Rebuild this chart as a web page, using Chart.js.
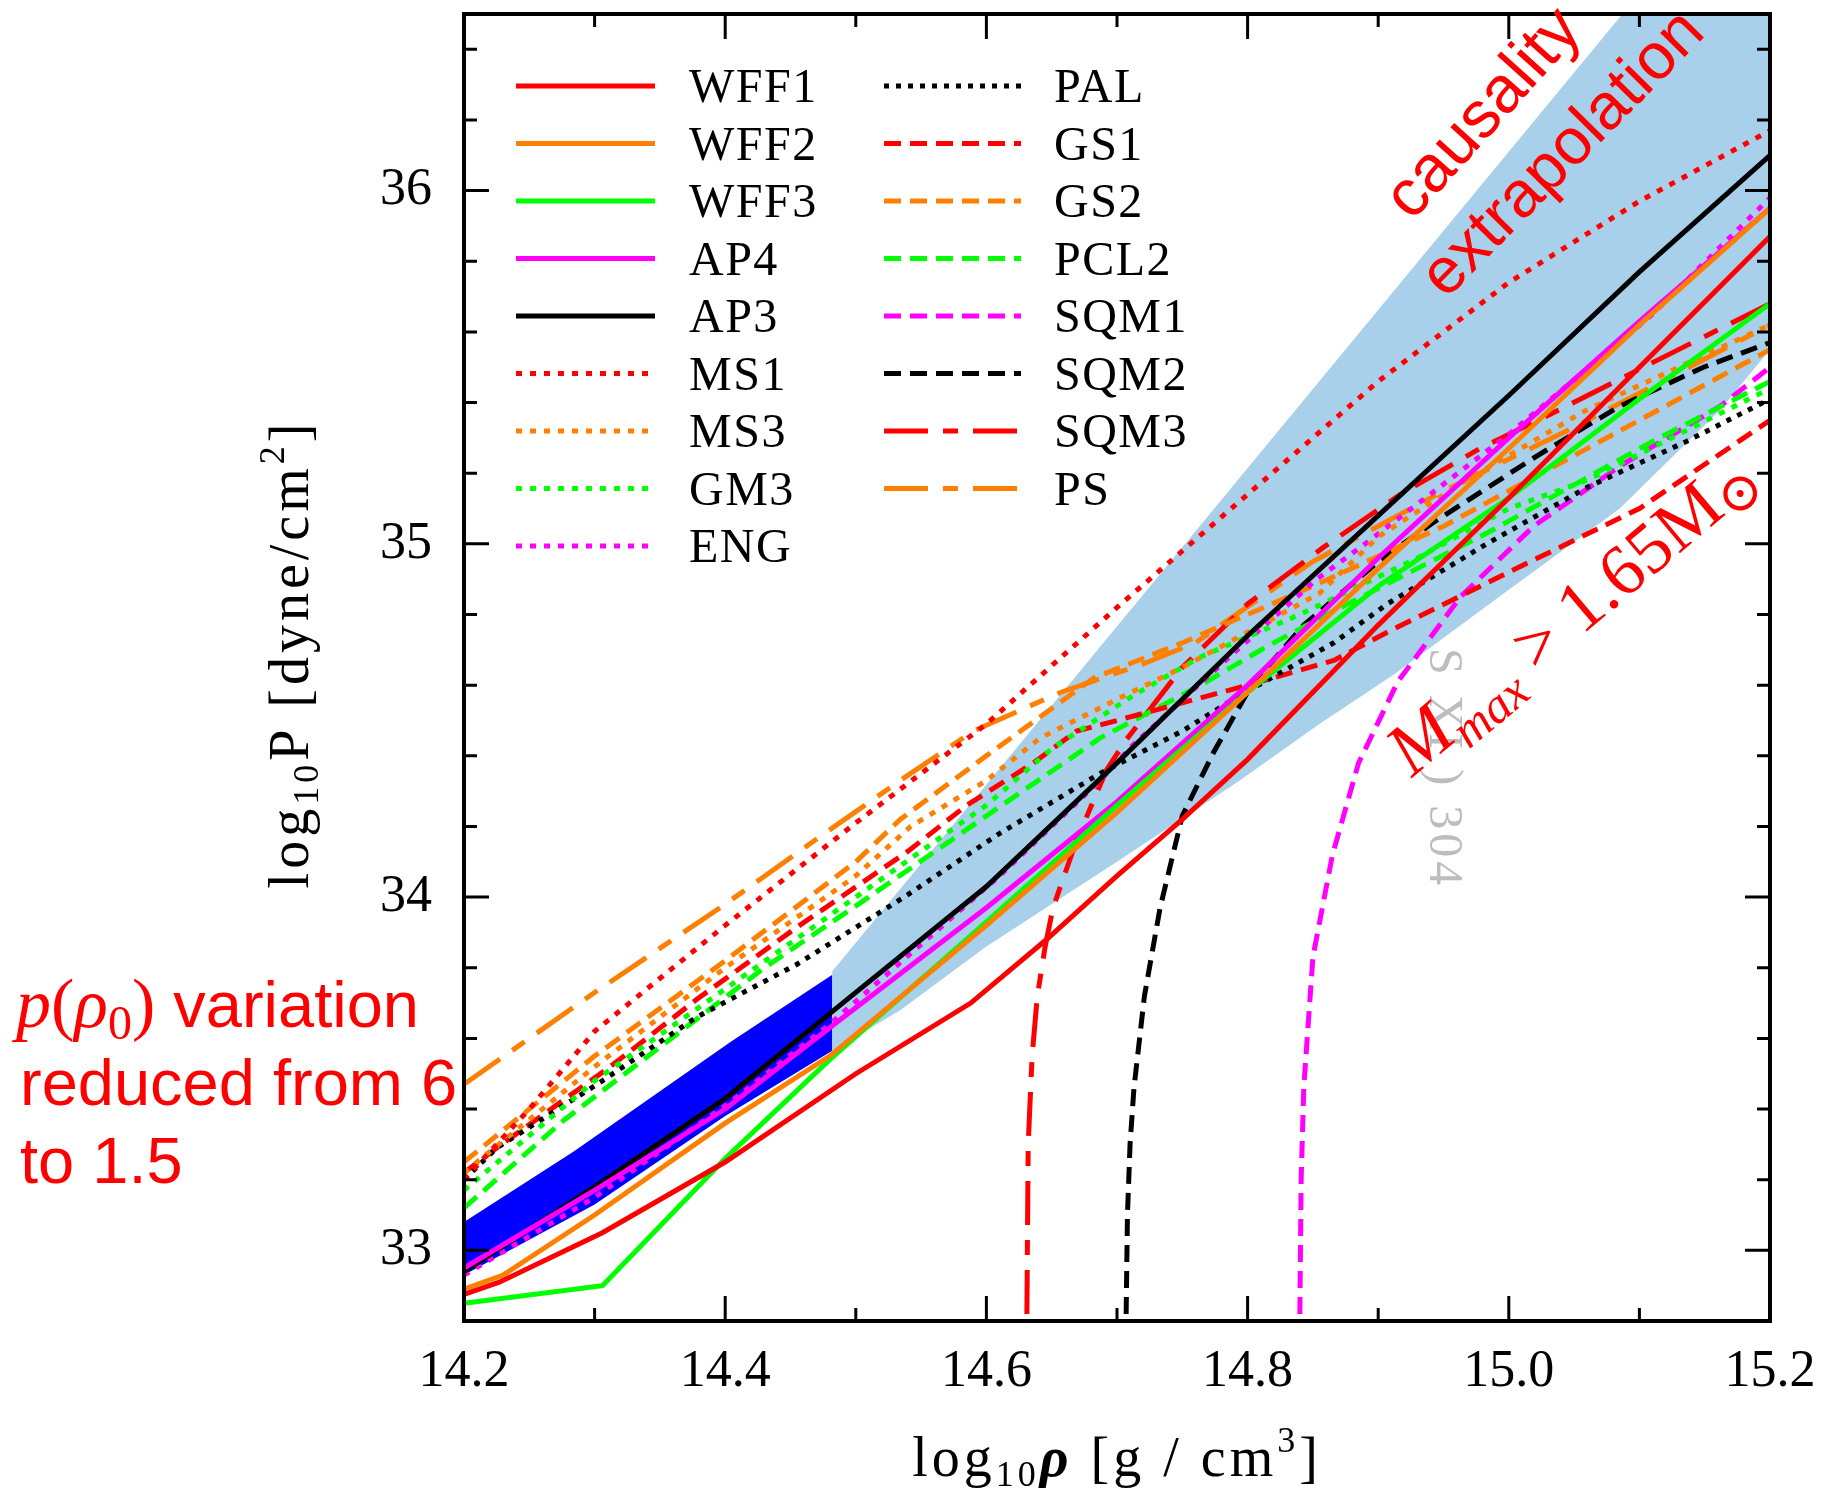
<!DOCTYPE html>
<html>
<head>
<meta charset="utf-8">
<script src="https://cdn.jsdelivr.net/npm/chart.js@4.4.1/dist/chart.umd.min.js"></script>
<style>
  html, body { margin: 0; padding: 0; background: #fff; }
  #wrap { width: 1831px; height: 1493px; position: relative; }
</style>
</head>
<body>
<div id="wrap"><canvas id="eosChart"></canvas></div>
<script>
// axis ticks
const X_TICKS = [14.2, 14.4, 14.6, 14.8, 15.0, 15.2];
const X_MINOR = [14.3, 14.5, 14.7, 14.9, 15.1];
const Y_TICKS = [33, 34, 35, 36];
const Y_MINOR = [33.2, 33.4, 33.6, 33.8, 34.2, 34.4, 34.6, 34.8, 35.2, 35.4, 35.6, 35.8, 36.2, 36.4];

// equations of state, log10 rho vs log10 P
const WFF1_X = [14.2, 14.227, 14.306, 14.4, 14.5, 14.588, 14.646, 14.7, 14.75, 14.8, 14.85, 14.9, 14.95, 15.0, 15.1, 15.2];
const WFF1_Y = [32.875, 32.91, 33.05, 33.25, 33.5, 33.70, 33.88, 34.06, 34.22, 34.39, 34.58, 34.77, 34.95, 35.13, 35.5, 35.87];
const WFF2_X = [14.2, 14.23, 14.3, 14.4, 14.48, 14.6, 14.7, 14.8, 14.9, 15.0, 15.1, 15.2];
const WFF2_Y = [32.89, 32.93, 33.1, 33.36, 33.55, 33.92, 34.24, 34.58, 34.93, 35.27, 35.62, 35.95];
const WFF3_X = [14.2, 14.306, 14.4, 14.48, 14.6, 14.7, 14.8, 14.9, 15.0, 15.1, 15.2];
const WFF3_Y = [32.85, 32.9, 33.26, 33.54, 33.93, 34.26, 34.58, 34.88, 35.13, 35.41, 35.68];
const AP4_X = [14.2, 14.3, 14.4, 14.48, 14.6, 14.7, 14.8, 14.9, 15.0, 15.1, 15.2];
const AP4_Y = [32.95, 33.17, 33.4, 33.63, 33.97, 34.27, 34.6, 34.96, 35.3, 35.63, 35.95];
const AP3_X = [14.2, 14.3, 14.4, 14.48, 14.6, 14.7, 14.8, 14.9, 15.0, 15.1, 15.2];
const AP3_Y = [32.94, 33.18, 33.43, 33.67, 34.03, 34.38, 34.74, 35.08, 35.42, 35.77, 36.1];
const MS1_X = [14.2, 14.25, 14.3, 14.4, 14.5, 14.6, 14.7, 14.8, 14.9, 15.0, 15.1, 15.2];
const MS1_Y = [33.2, 33.4, 33.62, 33.92, 34.21, 34.49, 34.82, 35.14, 35.46, 35.74, 35.97, 36.17];
const MS3_X = [14.2, 14.3, 14.4, 14.5, 14.542, 14.6, 14.641, 14.7, 14.75, 14.855, 14.9, 14.963, 15.06, 15.2];
const MS3_Y = [33.22, 33.52, 33.8, 34.06, 34.2, 34.33, 34.45, 34.56, 34.65, 34.86, 35.02, 35.17, 35.38, 35.62];
const GM3_X = [14.2, 14.3, 14.4, 14.5, 14.6, 14.65, 14.712, 14.764, 14.84, 14.93, 15.0, 15.06, 15.2];
const GM3_Y = [33.17, 33.48, 33.74, 34.0, 34.26, 34.42, 34.57, 34.68, 34.8, 34.96, 35.1, 35.18, 35.44];
const ENG_X = [14.2, 14.3, 14.404, 14.48, 14.61, 14.687, 14.712, 14.789, 14.853, 14.89, 15.0, 15.11, 15.2];
const ENG_Y = [32.93, 33.15, 33.42, 33.64, 34.06, 34.33, 34.43, 34.69, 34.9, 35.0, 35.31, 35.65, 35.98];
const PAL_X = [14.2, 14.225, 14.302, 14.378, 14.455, 14.537, 14.61, 14.687, 14.75, 14.789, 14.866, 14.907, 14.983, 15.06, 15.136, 15.2];
const PAL_Y = [33.2, 33.29, 33.47, 33.66, 33.81, 34.0, 34.18, 34.35, 34.47, 34.56, 34.72, 34.83, 35.0, 35.16, 35.29, 35.41];
const GS1_X = [14.2, 14.225, 14.312, 14.378, 14.455, 14.54, 14.585, 14.636, 14.669, 14.7, 14.75, 14.8, 14.866, 14.907, 15.0, 15.1, 15.2];
const GS1_Y = [33.22, 33.29, 33.52, 33.71, 33.915, 34.13, 34.26, 34.38, 34.47, 34.5, 34.55, 34.6, 34.67, 34.75, 34.92, 35.1, 35.35];
const GS2_X = [14.2, 14.3, 14.4, 14.5, 14.534, 14.6, 14.656, 14.682, 14.75, 14.85, 14.95, 15.05, 15.2];
const GS2_Y = [33.25, 33.55, 33.82, 34.1, 34.22, 34.4, 34.55, 34.62, 34.72, 34.88, 35.05, 35.25, 35.55];
const PCL2_X = [14.2, 14.24, 14.277, 14.348, 14.43, 14.506, 14.6, 14.687, 14.764, 14.815, 14.866, 14.983, 15.11, 15.2];
const PCL2_Y = [33.12, 33.25, 33.37, 33.57, 33.8, 33.99, 34.23, 34.45, 34.6, 34.71, 34.81, 35.03, 35.29, 35.46];
const SQM1_X = [14.84, 14.841, 14.843, 14.85, 14.865, 14.885, 14.915, 14.963, 15.019, 15.085, 15.162, 15.2];
const SQM1_Y = [32.82, 33.2, 33.46, 33.83, 34.12, 34.38, 34.61, 34.85, 35.05, 35.22, 35.39, 35.5];
const SQM2_X = [14.707, 14.708, 14.71, 14.713, 14.721, 14.733, 14.75, 14.774, 14.803, 14.843, 14.9, 14.942, 15.022, 15.085, 15.149, 15.2];
const SQM2_Y = [32.82, 33.1, 33.3, 33.46, 33.72, 33.97, 34.23, 34.41, 34.6, 34.77, 34.95, 35.06, 35.25, 35.39, 35.5, 35.57];
const SQM3_X = [14.631, 14.632, 14.635, 14.639, 14.645, 14.651, 14.669, 14.692, 14.707, 14.75, 14.8, 14.858, 14.917, 14.978, 15.039, 15.103, 15.2];
const SQM3_Y = [32.82, 33.3, 33.55, 33.72, 33.86, 33.97, 34.16, 34.36, 34.445, 34.65, 34.83, 34.99, 35.14, 35.27, 35.38, 35.5, 35.68];
const PS_X = [14.2, 14.3, 14.4, 14.476, 14.534, 14.59, 14.657, 14.72, 14.76, 14.85, 14.95, 15.05, 15.2];
const PS_Y = [33.47, 33.73, 33.98, 34.18, 34.33, 34.47, 34.58, 34.66, 34.72, 34.95, 35.15, 35.33, 35.62];

// shaded regions (outline, closed)
const DARK_X = [14.2, 14.284, 14.404, 14.482, 14.482, 14.4, 14.3, 14.2];
const DARK_Y = [33.08, 33.28, 33.59, 33.78, 33.565, 33.38, 33.13, 32.93];
const LIGHT_X = [14.482, 14.482, 15.087, 15.2, 15.2, 15.162, 15.085, 15.0, 14.912, 14.855, 14.794, 14.7, 14.6, 14.534, 14.482];
const LIGHT_Y = [33.565, 33.79, 36.5, 36.5, 35.55, 35.38, 35.1, 34.87, 34.63, 34.49, 34.33, 34.1, 33.86, 33.68, 33.565];

const SERIF = '"Liberation Serif", "DejaVu Serif", serif';
const SANS = '"Liberation Sans", Arial, sans-serif';
const RED = '#ff0000', ORANGE = '#ff8000', GREEN = '#00ff00', MAGENTA = '#ff00ff', BLACK = '#000000';
const SOLID = [], DOT = [6, 8], FINEDOT = [5, 7], DASH = [17, 9], LONGDASH = [44, 15, 15, 15];

function pts(xs, ys) {
    return xs.map(function(x, i){ return {x: x, y: ys[i]}; });
}

function eos(label, xs, ys, color, dash){
    return {
        label: label,
        data: pts(xs, ys),
        borderColor: color,
        borderWidth: 5,
        borderDash: dash,
        borderCapStyle: 'butt',
        pointRadius: 0,
        fill: false,
        tension: 0
    };
}

function band(xs, ys, color){
    return {
        isBand: true,
        data: pts(xs, ys),
        borderWidth: 0,
        borderColor: 'rgba(0,0,0,0)',
        backgroundColor: color,
        pointRadius: 0,
        fill: 'shape',
        order: 10
    };
}

const datasets = [
    eos('WFF1', WFF1_X, WFF1_Y, RED, SOLID),
    eos('WFF2', WFF2_X, WFF2_Y, ORANGE, SOLID),
    eos('WFF3', WFF3_X, WFF3_Y, GREEN, SOLID),
    eos('AP4', AP4_X, AP4_Y, MAGENTA, SOLID),
    eos('AP3', AP3_X, AP3_Y, BLACK, SOLID),
    eos('MS1', MS1_X, MS1_Y, RED, DOT),
    eos('MS3', MS3_X, MS3_Y, ORANGE, DOT),
    eos('GM3', GM3_X, GM3_Y, GREEN, DOT),
    eos('ENG', ENG_X, ENG_Y, MAGENTA, DOT),
    eos('PAL', PAL_X, PAL_Y, BLACK, FINEDOT),
    eos('GS1', GS1_X, GS1_Y, RED, DASH),
    eos('GS2', GS2_X, GS2_Y, ORANGE, DASH),
    eos('PCL2', PCL2_X, PCL2_Y, GREEN, DASH),
    eos('SQM1', SQM1_X, SQM1_Y, MAGENTA, DASH),
    eos('SQM2', SQM2_X, SQM2_Y, BLACK, DASH),
    eos('SQM3', SQM3_X, SQM3_Y, RED, LONGDASH),
    eos('PS', PS_X, PS_Y, ORANGE, LONGDASH),
    band(LIGHT_X, LIGHT_Y, '#a9d0eb'),
    band(DARK_X, DARK_Y, '#0000ff')
];

function drawRuns(ctx, runs, x, y, deg, align, color, spacing){
    ctx.save();
    ctx.translate(x, y);
    ctx.rotate(deg * Math.PI / 180);
    ctx.fillStyle = color;
    ctx.textAlign = 'left';
    ctx.textBaseline = 'alphabetic';
    if ('letterSpacing' in ctx) ctx.letterSpacing = (spacing || 0) + 'px';
    let w = 0;
    runs.forEach(function(r){ ctx.font = r.f; w += ctx.measureText(r.t).width; });
    let cx = align === 'center' ? -w / 2 : 0;
    runs.forEach(function(r){
        ctx.font = r.f;
        ctx.fillText(r.t, cx, r.dy || 0);
        cx += ctx.measureText(r.t).width;
    });
    ctx.restore();
}

// faint grey text sitting under the shaded band
const watermark = {
    id: 'watermark',
    beforeDatasetsDraw(chart){
        drawRuns(chart.ctx, [{t: 'S XI ) 304', f: '48px ' + SERIF}], 1430, 648, 90, 'left', '#bdbdbd', 4);
    }
};

// frame with inward ticks on all four sides
const frameTicks = {
    id: 'frameTicks',
    afterDatasetsDraw(chart){
        const ctx = chart.ctx, a = chart.chartArea;
        const xs = chart.scales.x, ys = chart.scales.y;
        ctx.save();
        ctx.strokeStyle = '#000';
        ctx.lineWidth = 3;
        ctx.setLineDash([]);
        ctx.beginPath();
        function xt(v, len){
            const p = xs.getPixelForValue(v);
            ctx.moveTo(p, a.bottom); ctx.lineTo(p, a.bottom - len);
            ctx.moveTo(p, a.top); ctx.lineTo(p, a.top + len);
        }
        function yt(v, len){
            const p = ys.getPixelForValue(v);
            ctx.moveTo(a.left, p); ctx.lineTo(a.left + len, p);
            ctx.moveTo(a.right, p); ctx.lineTo(a.right - len, p);
        }
        X_TICKS.forEach(function(v){ xt(v, 25); });
        X_MINOR.forEach(function(v){ xt(v, 13); });
        Y_TICKS.forEach(function(v){ yt(v, 25); });
        Y_MINOR.forEach(function(v){ yt(v, 13); });
        ctx.stroke();
        ctx.lineWidth = 4;
        ctx.strokeRect(a.left, a.top, a.right - a.left, a.bottom - a.top);
        ctx.restore();
    }
};

// two-column legend plus the text labels
const annotate = {
    id: 'annotate',
    afterDraw(chart){
        const ctx = chart.ctx;
        const lines = chart.data.datasets.filter(function(d){ return !d.isBand; });
        ctx.save();
        lines.forEach(function(ds, i){
            const col = i < 9 ? 0 : 1;
            const row = col ? i - 9 : i;
            const x0 = col ? 884 : 516, x1 = col ? 1021 : 655, tx = col ? 1054 : 689;
            const yy = 86 + row * 57.5;
            ctx.strokeStyle = ds.borderColor;
            ctx.lineWidth = 5;
            ctx.lineCap = 'butt';
            ctx.setLineDash(ds.borderDash);
            ctx.beginPath();
            ctx.moveTo(x0, yy); ctx.lineTo(x1, yy);
            ctx.stroke();
            ctx.setLineDash([]);
            ctx.fillStyle = '#000';
            ctx.font = '48px ' + SERIF;
            ctx.textBaseline = 'alphabetic';
            if ('letterSpacing' in ctx) ctx.letterSpacing = '1.5px';
            ctx.fillText(ds.label, tx, yy + 16);
        });
        ctx.restore();

        const big = '56px ' + SERIF, small = '36px ' + SERIF;
        drawRuns(ctx, [
            {t: 'log', f: big}, {t: '10', f: small, dy: 10}, {t: 'P', f: big},
            {t: ' [dyne/cm', f: big}, {t: '2', f: small, dy: -24}, {t: ']', f: big}
        ], 308, 654, -90, 'center', '#000', 4);
        drawRuns(ctx, [
            {t: 'log', f: big}, {t: '10', f: small, dy: 10}, {t: 'ρ', f: 'bold italic 56px ' + SERIF},
            {t: ' [g / cm', f: big}, {t: '3', f: small, dy: -24}, {t: ']', f: big}
        ], 1117, 1476, 0, 'center', '#000', 4);

        // red notes
        const m = '70px ' + SERIF, mi = 'italic 70px ' + SERIF;
        drawRuns(ctx, [
            {t: 'p', f: mi}, {t: '(', f: m}, {t: 'ρ', f: mi}, {t: '0', f: '48px ' + SERIF, dy: 12}, {t: ')', f: m},
            {t: ' variation', f: '65px ' + SANS}
        ], 16, 1027, 0, 'left', RED, 0);
        drawRuns(ctx, [{t: 'reduced from 6', f: '65px ' + SANS}], 20, 1105, 0, 'left', RED, 0);
        drawRuns(ctx, [{t: 'to 1.5', f: '65px ' + SANS}], 20, 1183, 0, 'left', RED, 0);

        drawRuns(ctx, [{t: 'causality', f: '66px ' + SANS}], 1412, 222, -48, 'left', RED, 0);
        drawRuns(ctx, [{t: 'extrapolation', f: '65px ' + SANS}], 1446, 300, -45.5, 'left', RED, 0);

        drawRuns(ctx, [
            {t: 'M', f: 'italic 74px ' + SERIF}, {t: 'max', f: 'italic 50px ' + SERIF, dy: 15},
            {t: ' > 1.65M', f: '72px ' + SERIF}, {t: '⊙', f: '54px ' + SERIF, dy: 10}
        ], 1412, 778, -40, 'left', RED, 0);
    }
};

const ctx = document.getElementById('eosChart');

new Chart(ctx, {
    type: 'line',
    data: { datasets: datasets },
    options: {
        responsive: true,
        maintainAspectRatio: false,
        animation: false,
        events: [],
        layout: { padding: { top: 14, right: 61, left: 0, bottom: 0 } },
        plugins: {
            legend: { display: false },
            tooltip: { enabled: false }
        },
        scales: {
            x: {
                type: 'linear',
                min: 14.2,
                max: 15.2,
                grid: { display: false, drawTicks: false },
                border: { display: false },
                afterBuildTicks: function(s){ s.ticks = X_TICKS.map(function(v){ return {value: v}; }); },
                afterFit: function(s){
                    s.height = 172;
                    s.paddingLeft = 0; s.paddingRight = 0; s.paddingTop = 0; s.paddingBottom = 0;
                },
                ticks: {
                    autoSkip: false,
                    maxRotation: 0,
                    padding: 20,
                    color: '#000',
                    font: { family: SERIF, size: 52 },
                    callback: function(v){ return Number(v).toFixed(1); }
                }
            },
            y: {
                type: 'linear',
                min: 32.8,
                max: 36.5,
                grid: { display: false, drawTicks: false },
                border: { display: false },
                afterBuildTicks: function(s){ s.ticks = Y_TICKS.map(function(v){ return {value: v}; }); },
                afterFit: function(s){
                    s.width = 464;
                    s.paddingLeft = 0; s.paddingRight = 0; s.paddingTop = 0; s.paddingBottom = 0;
                },
                ticks: {
                    autoSkip: false,
                    padding: 32,
                    color: '#000',
                    font: { family: SERIF, size: 52 },
                    callback: function(v){ return String(v); }
                }
            }
        }
    },
    plugins: [watermark, frameTicks, annotate]
});
</script>
</body>
</html>
